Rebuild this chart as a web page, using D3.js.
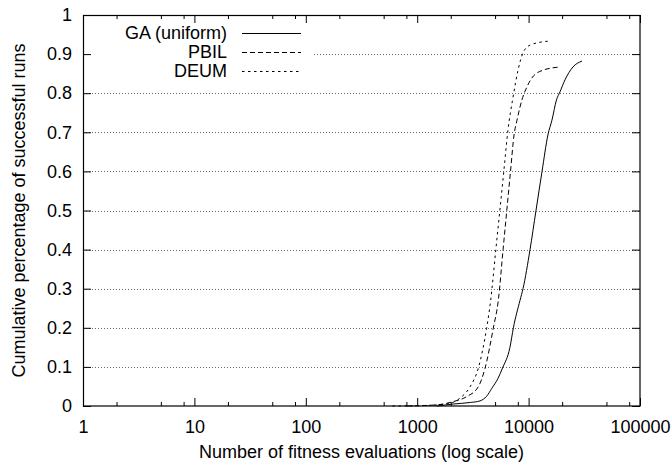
<!DOCTYPE html>
<html>
<head>
<meta charset="utf-8">
<script src="https://cdn.jsdelivr.net/npm/d3@7"></script>
<style>
  body { margin: 0; background: #fff; }
  svg { display: block; font-family: "Liberation Sans", Arial, Helvetica, sans-serif; }
</style>
</head>
<body>
<div id="chart"></div>
<script>
// data (evaluations, cumulative fraction)
const gaEvals   = [1500, 2100, 3000, 3660, 4200, 4670, 5300, 5830, 6800, 7300, 8370, 8910, 10300, 11650, 13200, 14900, 16200, 17800, 19100, 21200, 25000, 30100];
const gaFrac    = [0, 0.005, 0.009, 0.013, 0.025, 0.045, 0.07, 0.097, 0.15, 0.2, 0.27, 0.3, 0.4, 0.5, 0.6, 0.693, 0.731, 0.783, 0.803, 0.834, 0.867, 0.882];
const pbilEvals = [800, 1500, 2090, 2780, 3530, 4060, 4820, 5350, 5900, 6370, 6880, 7400, 7870, 8710, 9660, 10700, 13500, 19100];
const pbilFrac  = [0, 0.003, 0.011, 0.024, 0.049, 0.096, 0.199, 0.271, 0.4, 0.5, 0.6, 0.693, 0.731, 0.783, 0.816, 0.839, 0.859, 0.867];
const deumEvals = [600, 1400, 1970, 2420, 2980, 3530, 4200, 4570, 5080, 5520, 5990, 6530, 7250, 8040, 8900, 10300, 14900];
const deumFrac  = [0, 0.002, 0.007, 0.02, 0.049, 0.096, 0.199, 0.271, 0.4, 0.5, 0.6, 0.706, 0.79, 0.859, 0.903, 0.923, 0.933];

const seriesNames = ["GA (uniform)", "PBIL", "DEUM"];
const xMajor = [1, 10, 100, 1000, 10000, 100000];
const xMinor = [2, 5, 8, 20, 50, 80, 200, 500, 800, 2000, 5000, 8000, 20000, 50000, 80000];
const yTicks = [0, 0.1, 0.2, 0.3, 0.4, 0.5, 0.6, 0.7, 0.8, 0.9, 1];
const yGrid  = [0.1, 0.2, 0.3, 0.4, 0.5, 0.6, 0.7, 0.8, 0.9];

const W = 672, H = 464;
const margin = { top: 15, right: 32, bottom: 58, left: 83 },
  width = W - margin.left - margin.right,
  height = H - margin.top - margin.bottom;

const FONT = 18;

const svg = d3.select("#chart").append("svg")
  .attr("width", W)
  .attr("height", H);

const g = svg.append("g")
  .attr("transform", `translate(${margin.left},${margin.top})`);

const x = d3.scaleLog().domain([1, 100000]).range([0, width]);
const y = d3.scaleLinear().domain([0, 1]).range([height, 0]);

// grid
g.append("g").selectAll("line")
  .data(yGrid)
  .enter().append("line")
  .attr("x1", 0).attr("x2", width)
  .attr("y1", d => Math.round(y(d)) + 0.5)
  .attr("y2", d => Math.round(y(d)) + 0.5)
  .attr("stroke", "#666")
  .attr("stroke-width", 1)
  .attr("stroke-dasharray", "1,2");

// key box covers the grid
g.append("rect")
  .attr("x", 1).attr("y", 8)
  .attr("width", 228).attr("height", 57)
  .attr("fill", "#fff");

// axes helper
function styleAxis(sel) {
  sel.select(".domain").remove();
  sel.selectAll(".tick line").attr("stroke", "#000");
  sel.selectAll("text").attr("font-size", FONT).attr("fill", "#000").attr("font-family", null);
}

// bottom
g.append("g")
  .attr("transform", `translate(0,${height})`)
  .call(d3.axisBottom(x).tickValues(xMajor).tickSize(-8).tickPadding(14).tickFormat(d3.format("d")))
  .call(styleAxis);
g.append("g")
  .attr("transform", `translate(0,${height})`)
  .call(d3.axisBottom(x).tickValues(xMinor).tickSize(-4).tickFormat(""))
  .call(styleAxis);
// top mirror
g.append("g")
  .call(d3.axisTop(x).tickValues(xMajor).tickSize(-8).tickFormat(""))
  .call(styleAxis);
g.append("g")
  .call(d3.axisTop(x).tickValues(xMinor).tickSize(-4).tickFormat(""))
  .call(styleAxis);
// left
g.append("g")
  .call(d3.axisLeft(y).tickValues(yTicks).tickSize(-8).tickPadding(11)
    .tickFormat(d => d === 0 || d === 1 ? String(d) : d3.format(".1f")(d)))
  .call(styleAxis);
// right mirror
g.append("g")
  .attr("transform", `translate(${width},0)`)
  .call(d3.axisRight(y).tickValues(yTicks).tickSize(-8).tickFormat(""))
  .call(styleAxis);

// border
g.append("rect")
  .attr("x", 0.5).attr("y", 0.5)
  .attr("width", width - 0.5).attr("height", height - 0.5)
  .attr("fill", "none")
  .attr("stroke", "#000")
  .attr("stroke-width", 1.2);

// curves
const series = [
  { name: seriesNames[0], xs: gaEvals,   ys: gaFrac,   dash: null },
  { name: seriesNames[1], xs: pbilEvals, ys: pbilFrac, dash: "5,3" },
  { name: seriesNames[2], xs: deumEvals, ys: deumFrac, dash: "2.5,3.5" }
];

const line = d3.line()
  .x(d => x(d[0]))
  .y(d => y(d[1]))
  .curve(d3.curveMonotoneX);

series.forEach(s => {
  g.append("path")
    .datum(d3.zip(s.xs, s.ys))
    .attr("fill", "none")
    .attr("stroke", "#000")
    .attr("stroke-width", 1)
    .attr("stroke-dasharray", s.dash)
    .attr("d", line);
});

// legend
const key = g.append("g");
series.forEach((s, i) => {
  const ky = 18 + i * 19;
  key.append("text")
    .attr("x", 144)
    .attr("y", ky)
    .attr("dy", "0.35em")
    .attr("text-anchor", "end")
    .attr("font-size", FONT)
    .text(s.name);
  key.append("line")
    .attr("x1", 159).attr("x2", 218)
    .attr("y1", ky + 0.5).attr("y2", ky + 0.5)
    .attr("stroke", "#000")
    .attr("stroke-width", 1)
    .attr("stroke-dasharray", s.dash);
});

// axis titles
svg.append("text")
  .attr("x", margin.left + width / 2)
  .attr("y", 452)
  .attr("dy", "0.35em")
  .attr("text-anchor", "middle")
  .attr("font-size", FONT)
  .text("Number of fitness evaluations (log scale)");

svg.append("text")
  .attr("transform", `translate(18.5,${margin.top + height / 2}) rotate(-90)`)
  .attr("dy", "0.35em")
  .attr("text-anchor", "middle")
  .attr("font-size", FONT)
  .text("Cumulative percentage of successful runs");
</script>
</body>
</html>
